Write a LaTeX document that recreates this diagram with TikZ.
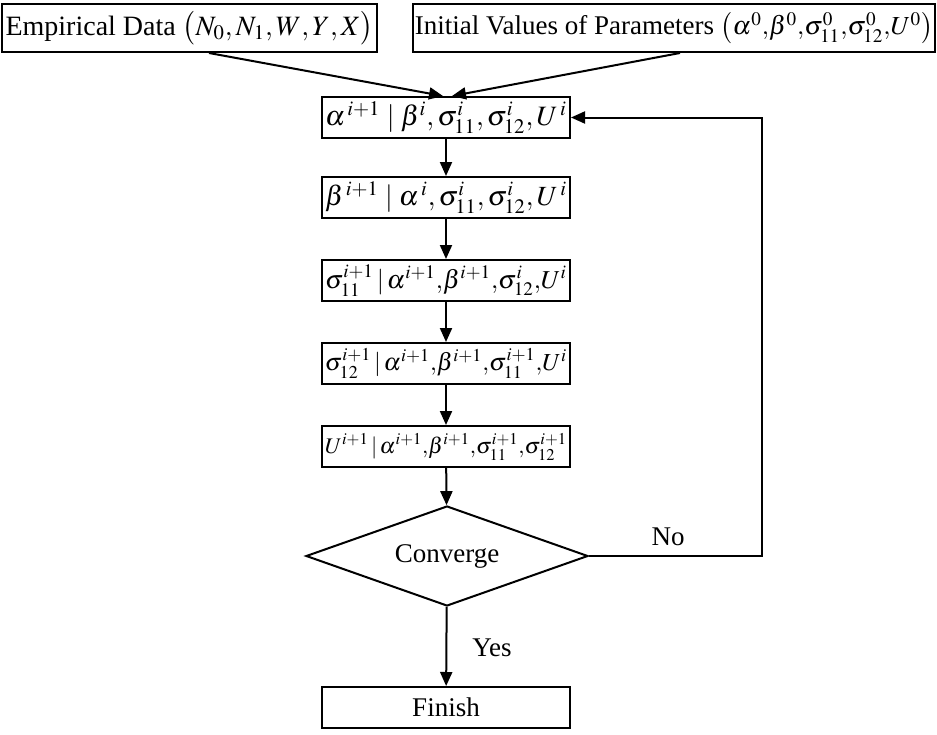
\documentclass[tikz,border=0pt]{standalone}
\usepackage{amsmath}
\usepackage{graphicx}
\usepackage{mathptmx}
\usepackage[no-math]{fontspec}
\setmainfont{Liberation Serif}
\usetikzlibrary{arrows.meta,shapes.geometric}
\newcommand{\fitmath}[1]{\resizebox{121pt}{!}{$#1$}}

\begin{document}
\begin{tikzpicture}[x=0.5pt,y=-0.5pt,
  box/.style={draw,line width=1pt,inner sep=0pt,minimum height=20.5pt,minimum width=124pt},
  topbox/.style={draw,line width=1pt,inner sep=0pt,minimum height=24pt},
  arr/.style={line width=1pt,-{Triangle[length=7pt,width=6pt]}},
  font=\fontsize{13.5}{16}\selectfont]
\useasboundingbox (0,0) rectangle (937,734);
\node[topbox,minimum width=187.5pt,font=\fontsize{14}{16}\selectfont] (emp) at (189.5,28) {Empirical Data $\bigl(N_0{,}\,N_1{,}\,W{,}\,Y{,}\,X\bigr)$};
\node[topbox,minimum width=261pt] (init) at (674,28) {Initial Values of Parameters {\fontsize{13}{16}\selectfont$\bigl(\alpha^0{,}\beta^0{,}\sigma_{11}^0{,}\sigma_{12}^0{,}U^0\bigr)$}};
\node[box] (alpha) at (446,117.5) {\fitmath{\alpha^{\,i+1}\mid\beta^i{,}\,\sigma_{11}^i{,}\,\sigma_{12}^i{,}\,U^{\,i}}};
\node[box] (beta) at (446,197.5) {\fitmath{\beta^{\,i+1}\mid\alpha^{\,i}{,}\,\sigma_{11}^i{,}\,\sigma_{12}^i{,}\,U^{\,i}}};
\node[box] (sig1) at (446,280.5) {\fitmath{\sigma_{11}^{i+1}\,|\,\alpha^{i+1}{,}\beta^{i+1}{,}\sigma_{12}^i{,}U^i}};
\node[box] (sig2) at (446,363.5) {\fitmath{\sigma_{12}^{i+1}\,|\,\alpha^{i+1}{,}\beta^{i+1}{,}\sigma_{11}^{i+1}{,}U^i}};
\node[box] (uu) at (446,446.5) {\fitmath{U^{i+1}\,|\,\alpha^{i+1}{,}\beta^{i+1}{,}\sigma_{11}^{i+1}{,}\sigma_{12}^{i+1}}};
\node[draw,line width=1pt,diamond,aspect=2.82,inner sep=0pt,minimum width=141pt,minimum height=50pt] (conv) at (447,556) {Converge};
\node[box] (fin) at (446,707.5) {Finish};
\node (no) at (668,537) {No};
\node (yes) at (492,648) {Yes};
\draw[arr] ([xshift=9.75pt]emp.south) -- ([xshift=-1.5pt]alpha.north);
\draw[arr] ([xshift=3pt]init.south) -- ([xshift=3pt]alpha.north);
\draw[arr] (alpha) -- (beta);
\draw[arr] (beta) -- (sig1);
\draw[arr] (sig1) -- (sig2);
\draw[arr] (sig2) -- (uu);
\draw[arr] (uu) -- (conv);
\draw[arr] (conv) -- (fin);
\draw[arr] (conv.east) -- ++(173,0) |- (alpha.east);
\end{tikzpicture}
\end{document}
